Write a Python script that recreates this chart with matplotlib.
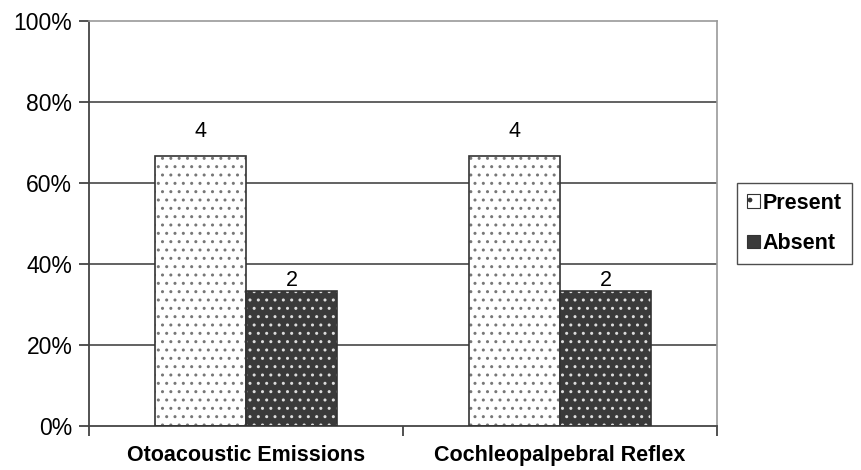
import matplotlib
matplotlib.use("Agg")
import matplotlib.pyplot as plt
import numpy as np
from matplotlib.patches import Patch
from matplotlib.ticker import FuncFormatter

plt.rcParams['font.family'] = ['Liberation Sans', 'DejaVu Sans']

categories = ["Otoacoustic Emissions", "Cochleopalpebral Reflex"]
series = ["Present", "Absent"]
counts_present = [4, 4]
counts_absent = [2, 2]
totals = [6, 6]

pct_present = [c / t * 100 for c, t in zip(counts_present, totals)]
pct_absent = [c / t * 100 for c, t in zip(counts_absent, totals)]

fig = plt.figure(figsize=(8.62, 4.70), dpi=100)
ax = fig.add_axes([0.1032, 0.0936, 0.7286, 0.8617])

x = np.arange(len(categories))
w = 0.29

grid_c = "#555555"
ax.set_ylim(0, 100)
ax.set_xlim(-0.5, len(categories) - 0.5)
ax.set_yticks([0, 20, 40, 60, 80, 100])
ax.yaxis.set_major_formatter(FuncFormatter(lambda v, p: f"{v:.0f}%"))
for yv in [20, 40, 60, 80]:
    ax.axhline(yv, color=grid_c, lw=1.3, zorder=0)

plt.rcParams['hatch.linewidth'] = 1.0

# Present bars: white with grey dots
ax.bar(x - w / 2, pct_present, w, color="white", edgecolor="#777777",
       hatch="..", linewidth=0, zorder=2)
ax.bar(x - w / 2, pct_present, w, fill=False, edgecolor="#333333",
       linewidth=1.2, zorder=3)
# Absent bars: dark with light dots
ax.bar(x + w / 2, pct_absent, w, color="#3a3a3a", edgecolor="#dddddd",
       hatch="..", linewidth=0, zorder=2)
ax.bar(x + w / 2, pct_absent, w, fill=False, edgecolor="#333333",
       linewidth=1.2, zorder=3)

for xi, p, c in zip(x - w / 2, pct_present, counts_present):
    ax.annotate(str(c), (xi, p), xytext=(0, 10), textcoords="offset points",
                ha="center", va="bottom", fontsize=15.5)
for xi, p, c in zip(x + w / 2, pct_absent, counts_absent):
    ax.annotate(str(c), (xi, p), xytext=(0, 0), textcoords="offset points",
                ha="center", va="bottom", fontsize=15.5)

ax.set_xticks(x)
ax.set_xticklabels(categories, fontsize=15.5, fontweight="bold")
ax.tick_params(axis="x", length=0, pad=14)
ax.set_xticks([-0.5, 0.5, 1.5], minor=True)
ax.tick_params(axis="x", which="minor", length=7, width=1.2, color="#333333")
ax.tick_params(axis="y", length=7, width=1.2, color="#333333",
               labelsize=16.5, pad=5)

for s in ["top", "right"]:
    ax.spines[s].set_color("#999999")
    ax.spines[s].set_linewidth(1.2)
for s in ["left", "bottom"]:
    ax.spines[s].set_color("#444444")
    ax.spines[s].set_linewidth(1.3)

handles = [
    Patch(facecolor="white", edgecolor="#333333", hatch=".", linewidth=0.8),
    Patch(facecolor="#3a3a3a", edgecolor="#333333", linewidth=0.8),
]
leg = fig.legend(handles, series, loc="upper left",
                 bbox_to_anchor=(737 / 862, 1 - 183 / 470),
                 prop={"weight": "bold", "size": 15.5},
                 frameon=True, fancybox=False, edgecolor="#222222",
                 handlelength=0.6, handleheight=0.6, handletextpad=0.15,
                 labelspacing=0.9, borderpad=0.45, borderaxespad=0)
leg.get_frame().set_linewidth(1.0)

fig.savefig("out.png", dpi=100)
